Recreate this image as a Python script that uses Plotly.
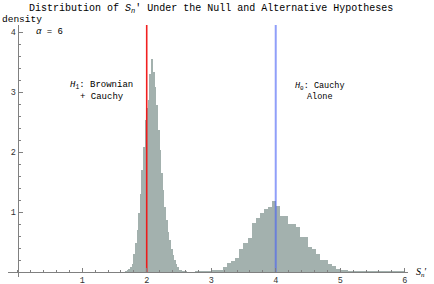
import numpy as np
import plotly.graph_objects as go

# ---- data ----
h1_bin_width = 0.025
h1_bin_starts = [1.675, 1.700, 1.725, 1.750, 1.775, 1.800, 1.825, 1.850, 1.875, 1.900,
                 1.925, 1.950, 1.975, 2.000, 2.025, 2.050, 2.075, 2.100, 2.125, 2.150,
                 2.175, 2.200, 2.225, 2.250, 2.275, 2.300, 2.325, 2.350, 2.375, 2.400,
                 2.425, 2.450, 2.475, 2.500, 2.525, 2.550, 2.575, 2.600]
h1_density = [0.02, 0.03, 0.05, 0.09, 0.14, 0.31, 0.48, 0.70, 0.98, 1.31,
              1.70, 2.09, 2.53, 2.73, 2.87, 3.31, 3.56, 3.34, 3.09, 2.78,
              2.37, 2.03, 1.65, 1.37, 1.09, 0.87, 0.67, 0.53, 0.39, 0.28,
              0.20, 0.13, 0.08, 0.04, 0.03, 0.02, 0.01, 0.01]

h0_bin_width = 0.0625
h0_bin_starts = [2.75, 2.8125, 2.875, 2.9375, 3.0, 3.0625, 3.125, 3.1875, 3.25, 3.3125,
                 3.375, 3.4375, 3.5, 3.5625, 3.625, 3.6875, 3.75, 3.8125, 3.875, 3.9375,
                 4.0, 4.0625, 4.125, 4.1875, 4.25, 4.3125, 4.375, 4.4375, 4.5, 4.5625,
                 4.625, 4.6875, 4.75, 4.8125, 4.875, 4.9375, 5.0, 5.0625, 5.125, 5.1875,
                 5.25, 5.3125, 5.375, 5.4375, 5.5, 5.5625, 5.625, 5.6875, 5.75, 5.8125,
                 5.875, 5.9375]
h0_density = [0.01, 0.01, 0.005, 0.02, 0.04, 0.03, 0.03, 0.09, 0.16, 0.18,
              0.23, 0.39, 0.49, 0.57, 0.82, 0.91, 0.98, 1.06, 1.08, 1.19,
              1.10, 0.93, 0.93, 0.81, 0.81, 0.76, 0.59, 0.59, 0.42, 0.39,
              0.30, 0.21, 0.21, 0.14, 0.11, 0.06, 0.03, 0.03, 0.02, 0.02,
              0.015, 0.015, 0.01, 0.015, 0.01, 0.01, 0.005, 0.01, 0.005, 0.005,
              0.005, 0.005]

h1_mean = 2.0
h0_mean = 4.0
line_top = 4.12

x_ticks = [1, 2, 3, 4, 5, 6]
y_ticks = [1, 2, 3, 4]

# ---- figure ----
XR = [-0.15, 6.05]
YR = [-0.08, 4.12]
bar_color = "#a3b1ae"
font_mono = "Liberation Mono, Courier New, monospace"

fig = go.Figure()
fig.add_trace(go.Bar(
    x=[s + h1_bin_width / 2 for s in h1_bin_starts], y=h1_density, width=h1_bin_width,
    marker=dict(color=bar_color, line=dict(width=0)), showlegend=False, hoverinfo="skip"))
fig.add_trace(go.Bar(
    x=[s + h0_bin_width / 2 for s in h0_bin_starts], y=h0_density, width=h0_bin_width,
    marker=dict(color=bar_color, line=dict(width=0)), showlegend=False, hoverinfo="skip"))
fig.add_trace(go.Scatter(x=[h1_mean, h1_mean], y=[0, line_top], mode="lines",
                         line=dict(color="rgba(240,20,20,0.95)", width=1.6),
                         showlegend=False, hoverinfo="skip"))
fig.add_trace(go.Scatter(x=[h0_mean, h0_mean], y=[0, line_top], mode="lines",
                         line=dict(color="rgba(70,95,245,0.6)", width=2),
                         showlegend=False, hoverinfo="skip"))

axis_col = "#808080"
fig.update_layout(
    width=434, height=284,
    margin=dict(l=8, r=26, t=25, b=7),
    paper_bgcolor="white", plot_bgcolor="white",
    barmode="overlay", bargap=0,
    font=dict(family=font_mono, size=9, color="black"),
    xaxis=dict(range=XR, domain=[0, 1], anchor="free",
               position=(0 - YR[0]) / (YR[1] - YR[0]),
               showgrid=False, zeroline=False, showline=True, linecolor=axis_col, linewidth=1,
               tickvals=x_ticks, ticks="inside", ticklen=4, tickcolor=axis_col, tickwidth=1,
               tickfont=dict(family=font_mono, size=8.5, color="#333"),
               minor=dict(dtick=0.2, tick0=0, ticks="inside", ticklen=2, tickcolor=axis_col,
                          showgrid=False),
               automargin=False, fixedrange=True),
    yaxis=dict(range=YR, domain=[0, 1], anchor="free",
               position=(0 - XR[0]) / (XR[1] - XR[0]),
               showgrid=False, zeroline=False, showline=True, linecolor=axis_col, linewidth=1,
               tickvals=y_ticks, ticks="inside", ticklen=4, tickcolor=axis_col, tickwidth=1,
               tickfont=dict(family=font_mono, size=8.5, color="#333"),
               minor=dict(dtick=0.2, tick0=0, ticks="inside", ticklen=2, tickcolor=axis_col,
                          showgrid=False),
               automargin=False, fixedrange=True),
)

ann = []
ann.append(dict(text="Distribution of <i>S<sub>n</sub></i>′ Under the Null and Alternative Hypotheses",
                xref="paper", yref="paper", x=(211 - 8) / 400, y=1, yanchor="bottom", xanchor="center",
                font=dict(family=font_mono, size=10, color="black"), showarrow=False,
                yshift=8))
ann.append(dict(text="density", xref="paper", yref="paper", x=0, y=1, xanchor="left",
                yanchor="bottom", font=dict(family=font_mono, size=9.5, color="black"),
                showarrow=False, xshift=-8, yshift=-2))
ann.append(dict(text="<i>α</i> = 6", x=0.25, y=4.0, xref="x", yref="y", xanchor="left",
                yanchor="middle", font=dict(family=font_mono, size=9, color="black"),
                showarrow=False))
ann.append(dict(text="<i>H</i><sub>1</sub>: Brownian<br>+ Cauchy", x=1.30, y=3.02,
                xref="x", yref="y", xanchor="center", yanchor="middle", align="center",
                font=dict(family=font_mono, size=9, color="black"), showarrow=False))
ann.append(dict(text="<i>H</i><sub>0</sub>: Cauchy<br>Alone", x=4.69, y=3.02,
                xref="x", yref="y", xanchor="center", yanchor="middle", align="center",
                font=dict(family=font_mono, size=8.5, color="black"), showarrow=False))
ann.append(dict(text="<i>S<sub>n</sub></i>′", x=6.05, y=0, xref="x", yref="y",
                xanchor="left", yanchor="middle", xshift=6,
                font=dict(family="Liberation Serif, serif", size=10, color="black"),
                showarrow=False))
fig.update_layout(annotations=ann)

fig.write_html("out.html", config={"displayModeBar": False},
               post_script="document.body.style.margin='0';document.body.style.padding='0';")
